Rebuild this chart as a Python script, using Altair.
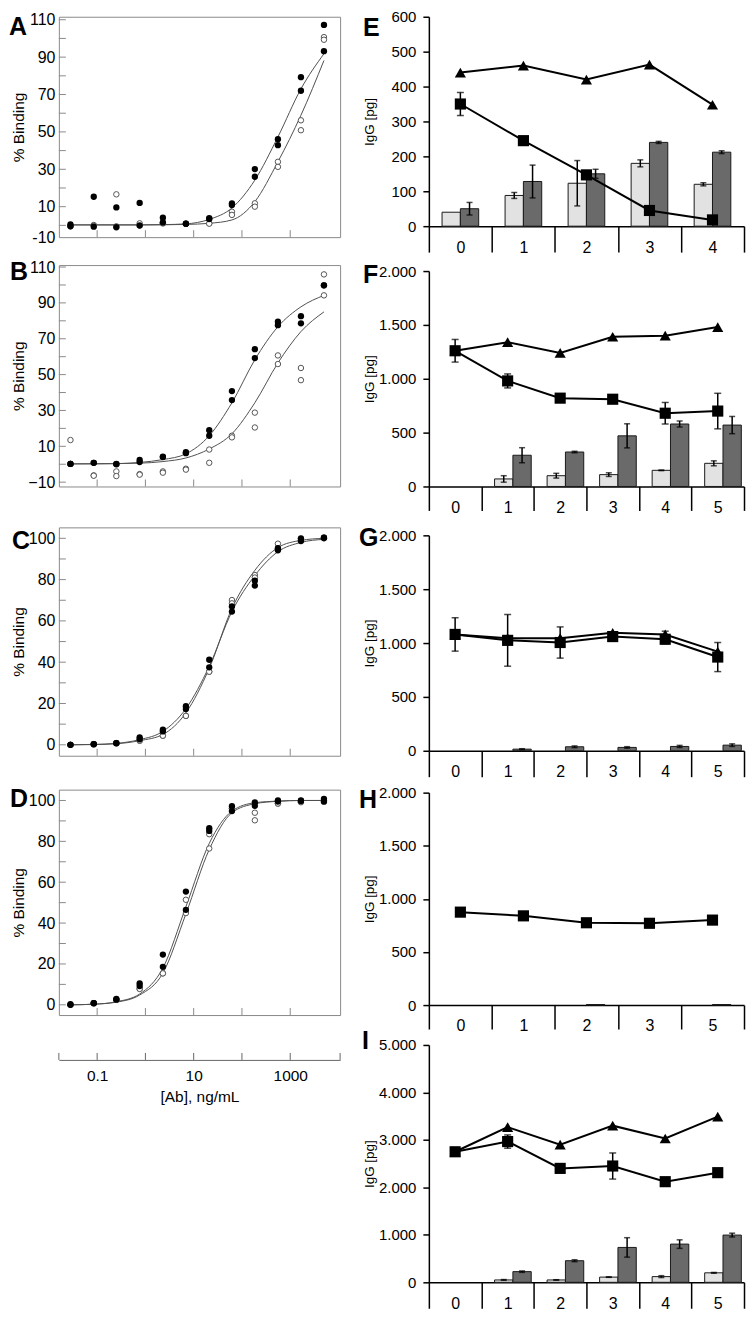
import altair as alt
import pandas as pd

# ---------------- left column (binding curves) ----------------
conc = [0.028, 0.085, 0.25, 0.76, 2.3, 6.9, 21, 62, 185, 556, 1667, 5000]
conc_domain = [0.0161, 10800]
decade_ticks = [0.1, 1, 10, 100, 1000]
conc_labels = [0.1, 10, 1000]

A_filled_1 = [0.5, 15.3, 9.6, 12.0, 4.1, 0.9, 3.8, 11.8, 30.1, 46.1, 79.3, 107.2]
A_filled_2 = [-0.5, -0.7, -1.0, -0.1, 1.6, 0.9, 3.4, 10.9, 26.0, 42.9, 72.0, 93.2]
A_open_1 = [-0.5, 0.2, 16.6, 1.1, 1.0, 0.8, 1.1, 7.3, 11.8, 34.0, 56.2, 100.7]
A_open_2 = [0.0, -0.2, -0.5, 0.0, 1.5, 0.8, 0.9, 5.6, 10.0, 31.3, 50.9, 99.3]
A_fit_filled = [0.3, 0.3, 0.3, 0.3, 0.4, 0.8, 3.2, 9.3, 24.2, 47.3, 73.0, 91.8]
A_fit_open = [0.2, 0.2, 0.2, 0.2, 0.3, 0.5, 1.1, 2.9, 12.7, 34.0, 58.9, 88.2]

B_filled_1 = [0.2, 0.8, 0.2, 2.4, 4.3, 6.7, 19.0, 40.8, 64.2, 79.5, 82.6, 99.8]
B_filled_2 = [0.2, 0.8, 0.0, 1.2, 4.0, 6.2, 15.9, 35.8, 59.2, 77.6, 78.6, 99.8]
B_open_1 = [13.5, -6.2, -4.0, -5.5, -4.0, -2.5, 8.2, 15.9, 28.8, 60.7, 53.7, 105.9]
B_open_2 = [0.2, -6.4, -6.6, -5.8, -4.7, -3.0, 0.8, 15.0, 20.5, 55.9, 46.9, 94.2]
B_fit_filled = [0.2, 0.2, 0.3, 1.0, 2.6, 5.8, 15.9, 34.3, 58.3, 76.7, 87.8, 94.2]
B_fit_open = [0.2, 0.3, 0.4, 0.6, 1.5, 3.5, 8.5, 17.0, 34.3, 56.5, 74.0, 85.0]

C_filled_1 = [0.0, 0.3, 0.8, 3.6, 7.3, 18.7, 41.2, 67.0, 79.5, 95.2, 100.0, 100.3]
C_filled_2 = [0.0, 0.3, 0.8, 2.7, 6.5, 17.3, 37.5, 64.5, 77.1, 94.2, 98.7, 100.3]
C_open_1 = [0.0, 0.3, 0.8, 1.9, 4.4, 14.0, 35.4, 70.1, 82.2, 97.4, 99.7, 100.0]
C_open_2 = [0.0, 0.3, 0.8, 2.0, 4.4, 14.0, 35.4, 68.5, 81.0, 95.0, 99.0, 100.0]
C_fit_filled = [0.0, 0.2, 0.7, 2.5, 6.5, 17.5, 38.0, 64.5, 82.0, 93.5, 98.0, 99.5]
C_fit_open = [0.0, 0.1, 0.5, 2.0, 5.0, 15.5, 37.0, 66.0, 84.5, 95.5, 99.0, 100.0]

D_filled_1 = [0.3, 0.8, 2.9, 10.5, 24.6, 55.4, 86.4, 97.2, 99.0, 100.0, 100.0, 100.8]
D_filled_2 = [0.0, 0.8, 2.5, 9.2, 18.6, 46.5, 85.1, 94.8, 97.4, 99.5, 99.8, 99.4]
D_open_1 = [0.0, 0.8, 2.5, 7.8, 15.4, 51.4, 83.5, 96.1, 94.0, 98.5, 99.2, 99.8]
D_open_2 = [0.0, 0.8, 2.5, 7.8, 15.4, 44.9, 76.5, 96.1, 90.3, 98.5, 99.2, 99.8]
D_fit_filled = [0.0, 0.3, 1.5, 5.3, 18.0, 48.0, 79.0, 94.8, 98.9, 99.7, 100.0, 100.0]
D_fit_open = [0.0, 0.3, 1.3, 4.8, 15.5, 44.5, 76.0, 94.0, 98.4, 99.6, 100.0, 100.0]

# ---------------- right column (IgG) ----------------
E_cats = ["0", "1", "2", "3", "4"]
E_light = [40, 88, 123, 180, 120]
E_light_err = [None, 8.5, 65, 10, 4.5]
E_dark = [50, 128, 150, 240, 212]
E_dark_err = [18, 47, 13, 3, 4]
E_tri = [440, 460, 420, 463, 348]
E_tri_err = [None, None, None, None, None]
E_sq = [350, 245, 147, 45, 18]
E_sq_err = [33, None, None, None, None]

F_cats = ["0", "1", "2", "3", "4", "5"]
F_light = [None, 70, 100, 110, 150, 215]
F_light_err = [None, 30, 22, 17, 3, 23]
F_dark = [None, 290, 320, 470, 580, 570]
F_dark_err = [None, 70, 7, 112, 28, 80]
F_tri = [1260, 1340, 1240, 1390, 1400, 1480]
F_tri_err = [None, None, None, None, None, None]
F_sq = [1260, 980, 820, 810, 680, 700]
F_sq_err = [105, 65, None, None, 100, 165]

G_cats = ["0", "1", "2", "3", "4", "5"]
G_light = [None, None, None, None, None, None]
G_light_err = [None, None, None, None, None, None]
G_dark = [None, 15, 37, 31, 40, 52]
G_dark_err = [None, 4, 8, 7, 10, 12]
G_tri = [1080, 1045, 1045, 1095, 1080, 920]
G_tri_err = [None, None, None, None, 30, None]
G_sq = [1080, 1025, 1005, 1060, 1035, 870]
G_sq_err = [155, 240, 145, None, 40, 135]

H_cats = ["0", "1", "2", "3", "5"]
H_light = [None, None, None, None, None]
H_light_err = [None, None, None, None, None]
H_dark = [None, None, 5, None, 5]
H_dark_err = [None, None, None, None, None]
H_tri = [None, None, None, None, None]
H_tri_err = [None, None, None, None, None]
H_sq = [875, 840, 775, 770, 800]
H_sq_err = [None, None, 30, None, 30]

I_cats = ["0", "1", "2", "3", "4", "5"]
I_light = [None, 50, 50, 110, 120, 200]
I_light_err = [None, 8, 5, 5, 20, 8]
I_dark = [None, 225, 455, 735, 805, 995]
I_dark_err = [None, 15, 20, 205, 90, 40]
I_tri = [2750, 3270, 2900, 3300, 3030, 3490]
I_tri_err = [None, None, None, None, None, None]
I_sq = [2750, 2965, 2400, 2450, 2120, 2310]
I_sq_err = [None, 140, None, 275, None, None]

LF = "Liberation Sans, Arial, sans-serif"
FRAME = "#8a8a8a"


def text_layer(letter, lx, ly):
    return alt.Chart(pd.DataFrame({"t": [letter]})).mark_text(
        font=LF, fontSize=25, fontWeight="bold", align="left",
        baseline="alphabetic", color="black"
    ).encode(text="t:N", x=alt.value(lx), y=alt.value(ly))


def guard_layer(gy):
    return alt.Chart(pd.DataFrame({"g": [0]})).mark_rule(opacity=0).encode(
        x=alt.value(0), y=alt.value(gy), y2=alt.value(gy + 1))


def left_panel(letter, lx, ly, f1, f2, o1, o2, cf, co, ydom, h, ylabels,
               yticks, neg_label=False, bottom_axis=False, guard=None):
    W = 282
    xs = alt.Scale(type="log", domain=conc_domain, nice=False)
    ys = alt.Scale(domain=ydom, nice=False, zero=False)
    if neg_label:
        lexpr = "datum.value < 0 ? '-10' : format(datum.value, 'd')"
    else:
        lexpr = "format(datum.value, 'd')"
    yaxis = alt.Axis(values=ylabels, labelExpr=lexpr, domain=False, ticks=False,
                     grid=False, labelFont=LF, labelFontSize=16, labelColor="black",
                     labelPadding=4, labelOverlap=False, title="% Binding",
                     titleFont=LF, titleFontSize=15.5, titleFontWeight="normal",
                     titleColor="black", titleX=-40, titleY=h / 2,
                     titleAlign="center", titleBaseline="middle", titleAngle=270)
    if bottom_axis:
        xaxis = alt.Axis(values=conc_labels, format="~g", offset=45, domain=True,
                         domainColor="#666", domainWidth=1, ticks=False, grid=False,
                         labelFont=LF, labelFontSize=15.5, labelColor="black",
                         labelPadding=9, labelFlush=False, labelOverlap=False,
                         title="[Ab], ng/mL", titleFont=LF, titleFontSize=15.5,
                         titleFontWeight="normal", titleColor="black", titlePadding=5)
    else:
        xaxis = None
    X = alt.X("conc:Q", scale=xs, axis=xaxis)
    Y = alt.Y("v:Q", scale=ys, axis=yaxis)

    fits = pd.DataFrame({"conc": conc * 2, "v": cf + co,
                         "curve": ["filled"] * len(conc) + ["open"] * len(conc)})
    filled = pd.DataFrame({"conc": conc * 2, "v": f1 + f2})
    opened = pd.DataFrame({"conc": conc * 2, "v": o1 + o2})

    layers = [
        alt.Chart(fits).mark_line(color="#505050", strokeWidth=1, interpolate="monotone")
        .encode(x=X, y=Y, detail="curve:N"),
        alt.Chart(opened).mark_circle(fill="white", stroke="#555", strokeWidth=1,
                                      size=30, opacity=1).encode(x=X, y=Y),
        alt.Chart(filled).mark_circle(color="black", size=40, opacity=1).encode(x=X, y=Y),
        alt.Chart(pd.DataFrame({"v": yticks})).mark_rule(color=FRAME, strokeWidth=1)
        .encode(y=Y, x=alt.value(0), x2=alt.value(7)),
        alt.Chart(pd.DataFrame({"conc": decade_ticks})).mark_rule(color=FRAME, strokeWidth=1)
        .encode(x=X, y=alt.value(h), y2=alt.value(h - 7)),
        text_layer(letter, lx, ly),
    ]
    if bottom_axis:
        layers.append(
            alt.Chart(pd.DataFrame({"conc": [conc_domain[0]] + decade_ticks + [conc_domain[1]]}))
            .mark_rule(color="#666", strokeWidth=1)
            .encode(x=X, y=alt.value(h + 45), y2=alt.value(h + 38)))
    if guard is not None:
        layers.append(guard_layer(guard))
    return alt.layer(*layers).properties(
        width=W, height=h, view=alt.ViewBackground(stroke=FRAME, strokeWidth=1))


def right_panel(letter, lx, ly, cats, light, light_err, dark, dark_err, tri, tri_err,
                sq, sq_err, ymax, ystep, h, guard=None, tick_len=25):
    W = 316
    bar_rows, berr_rows = [], []
    for grp, vals, errs in (("light", light, light_err), ("dark", dark, dark_err)):
        for c, v, e in zip(cats, vals, errs):
            if v is None:
                continue
            bar_rows.append({"cat": c, "grp": grp, "v": v})
            if e:
                berr_rows.append({"cat": c, "grp": grp, "lo": v - e, "hi": v + e})
    line_rows, lerr_rows = [], []
    for ser, vals, errs in (("tri", tri, tri_err), ("sq", sq, sq_err)):
        for c, v, e in zip(cats, vals, errs):
            if v is None:
                continue
            line_rows.append({"cat": c, "series": ser, "v": v})
            if e:
                lerr_rows.append({"cat": c, "series": ser, "lo": v - e, "hi": v + e})

    xaxis = alt.Axis(tickBand="extent", tickSize=tick_len, tickWidth=1.5, tickColor="black",
                     domainColor="black", domainWidth=1.5, labelAngle=0, labelFont=LF,
                     labelFontSize=16, labelColor="black", labelPadding=13 - tick_len,
                     title=None, grid=False)
    yaxis = alt.Axis(values=list(range(0, ymax + 1, ystep)),
                     labelExpr="replace(format(datum.value, ','), ',', '.')",
                     tickSize=6, tickWidth=1.5, tickColor="black", domainColor="black",
                     domainWidth=1.5, labelFont=LF, labelFontSize=15, labelColor="black",
                     labelPadding=7, grid=False, title="IgG [pg]", titleFont=LF,
                     titleFontSize=13.5, titleFontWeight="normal", titleColor="black",
                     titleX=-60, titleY=h / 2, titleAlign="center",
                     titleBaseline="middle", titleAngle=270)
    X = alt.X("cat:N", scale=alt.Scale(domain=cats, paddingInner=0, paddingOuter=0),
              sort=cats, axis=xaxis)
    XO = alt.XOffset("grp:N", scale=alt.Scale(domain=["light", "dark"],
                                               paddingInner=0, paddingOuter=0.72))
    ys = alt.Scale(domain=[0, ymax], nice=False)
    Y = alt.Y("v:Q", scale=ys, axis=yaxis)
    Ylo = alt.Y("lo:Q", scale=ys, axis=yaxis)
    Yhi = alt.Y("hi:Q", scale=ys, axis=yaxis)

    layers = []
    if bar_rows:
        bdf = pd.DataFrame(bar_rows)
        layers.append(alt.Chart(bdf).mark_bar(stroke="#1a1a1a", strokeWidth=1).encode(
            x=X, xOffset=XO, y=Y,
            color=alt.Color("grp:N", scale=alt.Scale(domain=["light", "dark"],
                                                      range=["#e2e2e2", "#6a6a6a"]),
                            legend=None)))
    if berr_rows:
        edf = pd.DataFrame(berr_rows)
        layers.append(alt.Chart(edf).mark_rule(color="black", strokeWidth=1.5)
                      .encode(x=X, xOffset=XO, y=Ylo, y2="hi:Q"))
        layers.append(alt.Chart(edf).mark_tick(color="black", thickness=1.5, size=6)
                      .encode(x=X, xOffset=XO, y=Ylo))
        layers.append(alt.Chart(edf).mark_tick(color="black", thickness=1.5, size=6)
                      .encode(x=X, xOffset=XO, y=Yhi))
    ldf = pd.DataFrame(line_rows)
    layers.append(alt.Chart(ldf).mark_line(color="black", strokeWidth=2)
                  .encode(x=X, y=Y, detail="series:N"))
    if lerr_rows:
        ldf2 = pd.DataFrame(lerr_rows)
        layers.append(alt.Chart(ldf2).mark_rule(color="black", strokeWidth=1.5)
                      .encode(x=X, y=Ylo, y2="hi:Q"))
        layers.append(alt.Chart(ldf2).mark_tick(color="black", thickness=1.5, size=7)
                      .encode(x=X, y=Ylo))
        layers.append(alt.Chart(ldf2).mark_tick(color="black", thickness=1.5, size=7)
                      .encode(x=X, y=Yhi))
    layers.append(alt.Chart(ldf).mark_point(filled=True, opacity=1, color="black", size=125)
                  .encode(x=X, y=Y,
                          shape=alt.Shape("series:N",
                                          scale=alt.Scale(domain=["tri", "sq"],
                                                          range=["triangle-up", "square"]),
                                          legend=None)))
    layers.append(text_layer(letter, lx, ly))
    if guard is not None:
        layers.append(guard_layer(guard))
    return alt.layer(*layers).properties(width=W, height=h)


def spacer(h):
    return alt.Chart(pd.DataFrame({"s": [0]})).mark_point(opacity=0).encode(
        x=alt.X("s:Q", axis=None), y=alt.Y("s:Q", axis=None)
    ).properties(width=10, height=h)


ticks_ab = list(range(0, 111, 10))
ticks_b = list(range(-10, 111, 10))
ticks_cd = list(range(0, 101, 10))

pA = left_panel("A", -50, 18.5, A_filled_1, A_filled_2, A_open_1, A_open_2,
                A_fit_filled, A_fit_open, [-6.3, 111.6], 221,
                [-6.3, 10, 30, 50, 70, 90, 110], ticks_ab, neg_label=True, guard=-9)
pB = left_panel("B", -49, 14.5, B_filled_1, B_filled_2, B_open_1, B_open_2,
                B_fit_filled, B_fit_open, [-12.4, 111.1], 222,
                [-10, 10, 30, 50, 70, 90, 110], ticks_b)
pC = left_panel("C", -47, 21.5, C_filled_1, C_filled_2, C_open_1, C_open_2,
                C_fit_filled, C_fit_open, [-5.3, 105.3], 229,
                [0, 20, 40, 60, 80, 100], ticks_cd)
pD = left_panel("D", -49, 17.5, D_filled_1, D_filled_2, D_open_1, D_open_2,
                D_fit_filled, D_fit_open, [-5.0, 105.3], 226,
                [0, 20, 40, 60, 80, 100], ticks_cd, bottom_axis=True)

left_col = alt.vconcat(pA, spacer(28), pB, spacer(41), pC, spacer(34), pD,
                       spacing=0, bounds="flush")

pE = right_panel("E", -66, 19.5, E_cats, E_light, E_light_err, E_dark, E_dark_err,
                 E_tri, E_tri_err, E_sq, E_sq_err, 600, 100, 210, guard=-8, tick_len=26)
pF = right_panel("F", -66, 11.5, F_cats, F_light, F_light_err, F_dark, F_dark_err,
                 F_tri, F_tri_err, F_sq, F_sq_err, 2000, 500, 216, tick_len=24)
pG = right_panel("G", -70, 10.5, G_cats, G_light, G_light_err, G_dark, G_dark_err,
                 G_tri, G_tri_err, G_sq, G_sq_err, 2000, 500, 216, tick_len=26)
pH = right_panel("H", -70, 15.5, H_cats, H_light, H_light_err, H_dark, H_dark_err,
                 H_tri, H_tri_err, H_sq, H_sq_err, 2000, 500, 213, tick_len=24)
pI = right_panel("I", -67, 4.5, I_cats, I_light, I_light_err, I_dark, I_dark_err,
                 I_tri, I_tri_err, I_sq, I_sq_err, 5000, 1000, 238, tick_len=26)

right_col = alt.vconcat(pE, spacer(45), pF, spacer(49), pG, spacer(42), pH, spacer(40), pI,
                        spacing=0, bounds="flush")

chart = alt.hconcat(left_col, right_col, spacing=17).properties(
    padding={"top": -3, "left": 0, "right": 0, "bottom": 0}, background="white"
).configure_view(stroke="transparent")

chart.save("out.html", embed_options={"renderer": "svg", "actions": False})
